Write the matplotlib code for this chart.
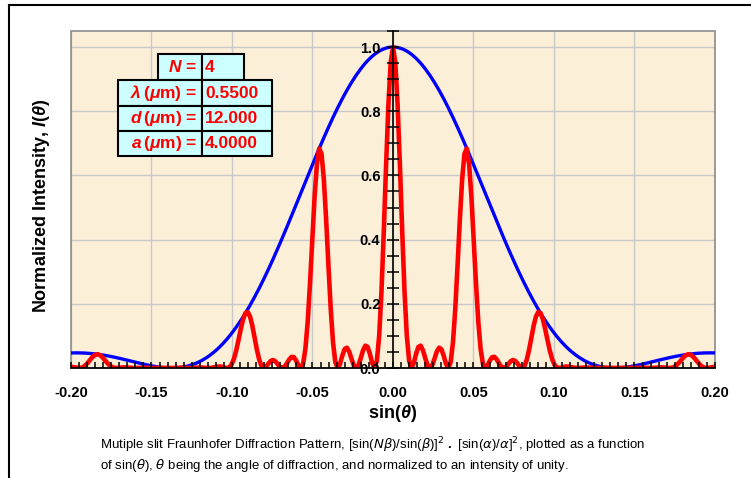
import numpy as np
import matplotlib
matplotlib.use('Agg')
import matplotlib.pyplot as plt
from matplotlib.patches import Rectangle
from matplotlib.lines import Line2D

# ── Dati (lato positivo, la figura e' simmetrica in sin(theta)) ──────────
sin_theta_half = [
    0.0, 0.00143, 0.00286, 0.00430, 0.00573, 0.00716, 0.00859, 0.01003,
    0.01146, 0.01289, 0.01432, 0.01576, 0.01719, 0.01862, 0.02005, 0.02148,
    0.02292, 0.02435, 0.02578, 0.02721, 0.02865, 0.03008, 0.03151, 0.03294,
    0.03438, 0.03581, 0.03724, 0.03867, 0.04010, 0.04154, 0.04297, 0.04440,
    0.04583, 0.04727, 0.04870, 0.05013, 0.05156, 0.05299, 0.05443, 0.05586,
    0.05729, 0.05872, 0.06016, 0.06159, 0.06302, 0.06445, 0.06589, 0.06732,
    0.06875, 0.07018, 0.07161, 0.07305, 0.07448, 0.07591, 0.07734, 0.07878,
    0.08021, 0.08164, 0.08307, 0.08451, 0.08594, 0.08737, 0.08880, 0.09023,
    0.09167, 0.09310, 0.09453, 0.09596, 0.09740, 0.09883, 0.10026, 0.10169,
    0.10313, 0.10456, 0.10599, 0.10742, 0.10885, 0.11029, 0.11172, 0.11315,
    0.11458, 0.11602, 0.11745, 0.11888, 0.12031, 0.12174, 0.12318, 0.12461,
    0.12604, 0.12747, 0.12891, 0.13034, 0.13177, 0.13320, 0.13464, 0.13607,
    0.13750, 0.13893, 0.14036, 0.14180, 0.14323, 0.14466, 0.14609, 0.14753,
    0.14896, 0.15039, 0.15182, 0.15326, 0.15469, 0.15612, 0.15755, 0.15898,
    0.16042, 0.16185, 0.16328, 0.16471, 0.16615, 0.16758, 0.16901, 0.17044,
    0.17188, 0.17331, 0.17474, 0.17617, 0.17760, 0.17904, 0.18047, 0.18190,
    0.18333, 0.18477, 0.18620, 0.18763, 0.18906, 0.19049, 0.19193, 0.19336,
    0.19479, 0.19622, 0.19766, 0.19909, 0.20000,
]
# inviluppo di singola fenditura (blu)
single_slit_half = [
    1.0, 0.99964, 0.99857, 0.99679, 0.99430, 0.99110, 0.98721, 0.98263,
    0.97736, 0.97142, 0.96481, 0.95755, 0.94964, 0.94111, 0.93196, 0.92222,
    0.91189, 0.90100, 0.88956, 0.87760, 0.86512, 0.85216, 0.83873, 0.82486,
    0.81057, 0.79588, 0.78081, 0.76540, 0.74965, 0.73361, 0.71729, 0.70072,
    0.68392, 0.66692, 0.64975, 0.63243, 0.61499, 0.59745, 0.57984, 0.56219,
    0.54452, 0.52685, 0.50920, 0.49162, 0.47411, 0.45669, 0.43941, 0.42226,
    0.40529, 0.38850, 0.37191, 0.35556, 0.33945, 0.32360, 0.30804, 0.29277,
    0.27781, 0.26319, 0.24890, 0.23496, 0.22139, 0.20821, 0.19540, 0.18299,
    0.17098, 0.15938, 0.14820, 0.13744, 0.12710, 0.11720, 0.10772, 0.09868,
    0.09006, 0.08188, 0.07413, 0.06681, 0.05991, 0.05343, 0.04737, 0.04172,
    0.03648, 0.03163, 0.02717, 0.02309, 0.01938, 0.01604, 0.01305, 0.01040,
    0.00808, 0.00608, 0.00439, 0.00299, 0.00188, 0.00104, 0.00045, 0.00011,
    0.0, 0.00011, 0.00042, 0.00092, 0.00159, 0.00243, 0.00342, 0.00454,
    0.00578, 0.00714, 0.00859, 0.01012, 0.01172, 0.01339, 0.01510, 0.01684,
    0.01861, 0.02039, 0.02218, 0.02396, 0.02572, 0.02745, 0.02916, 0.03081,
    0.03242, 0.03398, 0.03546, 0.03688, 0.03822, 0.03949, 0.04066, 0.04175,
    0.04275, 0.04365, 0.04444, 0.04515, 0.04574, 0.04624, 0.04663, 0.04692,
    0.04710, 0.04719, 0.04717, 0.04705, 0.04692,
]
# pattern a N fenditure (rosso)
multi_slit_half = [
    1.0, 0.95235, 0.81990, 0.63105, 0.42435, 0.23793, 0.09995, 0.02235,
    0.0, 0.01488, 0.04361, 0.06568, 0.06954, 0.05483, 0.03028, 0.00852,
    0.0, 0.00833, 0.02890, 0.05113, 0.06335, 0.05845, 0.03791, 0.01264,
    0.0, 0.01810, 0.07905, 0.18375, 0.31994, 0.46444, 0.58894, 0.66757,
    0.68392, 0.63537, 0.53349, 0.40038, 0.26247, 0.14343, 0.05871, 0.01279,
    0.0, 0.00807, 0.02302, 0.03372, 0.03472, 0.02660, 0.01427, 0.00390,
    0.0, 0.00359, 0.01208, 0.02071, 0.02486, 0.02220, 0.01392, 0.00448,
    0.0, 0.00599, 0.02520, 0.05641, 0.09448, 0.13181, 0.16043, 0.17433,
    0.17098, 0.15184, 0.12168, 0.08701, 0.05425, 0.02814, 0.01091, 0.00224,
    0.0, 0.00125, 0.00335, 0.00458, 0.00439, 0.00311, 0.00154, 0.00039,
    0.0, 0.00029, 0.00088, 0.00134, 0.00142, 0.00110, 0.00059, 0.00016,
    0.0, 0.00014, 0.00044, 0.00072, 0.00080, 0.00066, 0.00037, 0.00011,
    0.0, 0.00010, 0.00034, 0.00058, 0.00068, 0.00058, 0.00035, 0.00010,
    0.0, 0.00011, 0.00039, 0.00069, 0.00086, 0.00078, 0.00049, 0.00016,
    0.0, 0.00019, 0.00072, 0.00140, 0.00188, 0.00188, 0.00132, 0.00047,
    0.0, 0.00077, 0.00359, 0.00885, 0.01631, 0.02500, 0.03339, 0.03978,
    0.04275, 0.04158, 0.03649, 0.02858, 0.01952, 0.01110, 0.00472, 0.00107,
    0.0, 0.00072, 0.00213, 0.00323, 0.00347,
]

table_labels = [r'$\mathbfit{N}$ =',
                r'$\mathbfit{\lambda}\,$($\mathbfit{\mu}$m) =',
                r'$\mathbfit{d}\,$($\mathbfit{\mu}$m) =',
                r'$\mathbfit{a}\,$($\mathbfit{\mu}$m) =']
table_values = ['4', '0.5500', '12.000', '4.0000']

x_ticks = [-0.20, -0.15, -0.10, -0.05, 0.00, 0.05, 0.10, 0.15, 0.20]
y_ticks = [0.0, 0.2, 0.4, 0.6, 0.8, 1.0]

caption_1 = (r'Mutiple slit Fraunhofer Diffraction Pattern, '
             r'[sin($N\beta$)/sin($\beta$)]$^2$ $\mathbf{.}$ '
             r'[sin($\alpha$)/$\alpha$]$^2$, plotted as a function')
caption_2 = (r'of sin($\theta$), $\theta$ being the angle of diffraction, '
             r'and normalized to an intensity of unity.')

# ── Curve complete (specchio del lato positivo) ──────────────────────────
xh = np.array(sin_theta_half)
s_theta = np.concatenate([-xh[:0:-1], xh])
blue = np.concatenate([np.array(single_slit_half)[:0:-1], single_slit_half])
red = np.concatenate([np.array(multi_slit_half)[:0:-1], multi_slit_half])

# ── Stile ────────────────────────────────────────────────────────────────
plt.rcParams['font.family'] = ['Liberation Sans', 'DejaVu Sans']
plt.rcParams['axes.unicode_minus'] = False
plt.rcParams['mathtext.fontset'] = 'custom'
plt.rcParams['mathtext.rm'] = 'Liberation Sans Narrow'
plt.rcParams['mathtext.it'] = 'Liberation Sans Narrow:italic'
plt.rcParams['mathtext.bf'] = 'Liberation Sans:bold'
plt.rcParams['mathtext.bfit'] = 'Liberation Sans:bold:italic'

W, H = 751, 478
fig = plt.figure(figsize=(W / 100, H / 100), dpi=100)


def fx(x):
    return x / W


def fy(y):
    return 1 - y / H


# cornice esterna (sinistra + alto)
fig.add_artist(Line2D([fx(9), fx(9)], [fy(5), 0], color='black', lw=1.5))
fig.add_artist(Line2D([fx(9), 1], [fy(5), fy(5)], color='black', lw=1.5))

L, R, T, B = 71, 715, 31, 368
ax = fig.add_axes([fx(L), fy(B), (R - L) / W, (B - T) / H])
ax.set_facecolor('#fcefd7')
ax.set_xlim(-0.2, 0.2)
ax.set_ylim(0, 1.05)

for xv in x_ticks:
    ax.axvline(xv, color='#c8c8c8', lw=1, zorder=0.5)
for yv in y_ticks[1:]:
    ax.axhline(yv, color='#c8c8c8', lw=1, zorder=0.5)

ax.plot(s_theta, blue, color='#0000ff', lw=2.4, zorder=2)
ax.plot(s_theta, red, color='#ff0000', lw=3.3, zorder=2.1,
        solid_joinstyle='round')

ax.set_axisbelow(False)
ax.spines['left'].set_position(('data', 0))
ax.spines['left'].set_linewidth(1.2)
ax.spines['bottom'].set_linewidth(1.2)
ax.spines['top'].set_visible(False)
ax.spines['right'].set_visible(False)
ax.add_patch(Rectangle((0, 0), 1, 1, transform=ax.transAxes, fill=False,
                       edgecolor='#8c8c8c', lw=1.2, zorder=1, clip_on=False))

ax.set_xticks(x_ticks)
ax.set_xticklabels([f'{v:.2f}' for v in x_ticks])
ax.set_xticks(np.arange(-0.2, 0.2001, 0.005), minor=True)
ax.tick_params(axis='x', which='both', direction='in', length=4, width=1.1,
               pad=13, labelsize=10.5)
ax.set_yticks(y_ticks)
ax.set_yticklabels([f'{v:.1f}' for v in y_ticks])
ax.set_yticks(np.arange(0, 1.0501, 0.05), minor=True)
ax.tick_params(axis='y', which='both', direction='inout', length=8,
               width=1.1, pad=5, labelsize=10.5)
for lab in ax.get_xticklabels() + ax.get_yticklabels():
    lab.set_fontweight('bold')

fig.text(fx(393), fy(413), r'sin($\mathbfit{\theta}$)', fontsize=13,
         fontweight='bold', ha='center', va='center')
fig.text(fx(42), fy(206), r'Normalized Intensity, $\mathbfit{I}$($\mathbfit{\theta}$)',
         fontsize=13, fontweight='bold', rotation=90, ha='center', va='center')

# tabella parametri
rows = [(54, 80, 158, 244), (80, 106, 118, 272), (106, 131, 118, 272),
        (131, 156, 118, 272)]
for (y0, y1, xl, xr), lab, val in zip(rows, table_labels, table_values):
    for a, b in ((xl, 202), (202, xr)):
        fig.add_artist(Rectangle((fx(a), fy(y1)), (b - a) / W, (y1 - y0) / H,
                                 transform=fig.transFigure, facecolor='#ccffff',
                                 edgecolor='black', lw=1.5, zorder=5))
    yc = fy((y0 + y1) / 2)
    fig.text(fx(197), yc, lab, color='#ff0000', fontsize=12.5,
             fontweight='bold', ha='right', va='center', zorder=6)
    fig.text(fx(205), yc, val, color='#ff0000', fontsize=12.5,
             fontweight='bold', ha='left', va='center', zorder=6)

fig.text(fx(100), fy(445), caption_1, fontsize=9.5,
         family=['Liberation Sans Narrow', 'Liberation Sans'], va='center')
fig.text(fx(100), fy(465), caption_2, fontsize=9.5,
         family=['Liberation Sans Narrow', 'Liberation Sans'], va='center')

fig.savefig('out.png', dpi=100)
